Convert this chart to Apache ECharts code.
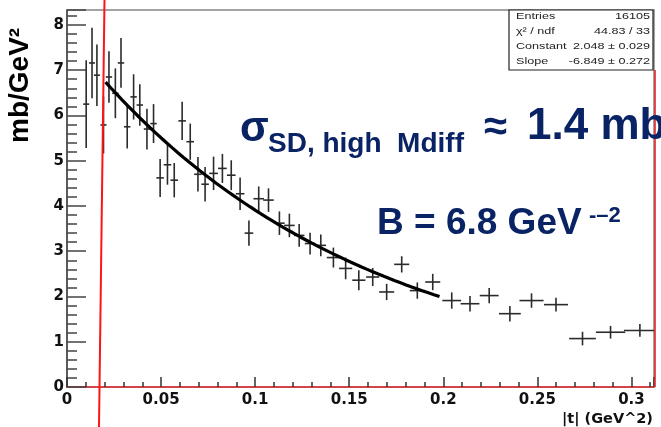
<!DOCTYPE html>
<html>
<head>
<meta charset="utf-8">
<script src="https://cdn.jsdelivr.net/npm/echarts@6/dist/echarts.min.js"></script>
<style>
  html, body { margin: 0; padding: 0; background: #fff; }
  #chart { width: 661px; height: 427px; }
</style>
</head>
<body>
<div id="chart"></div>
<script>
// |t| bin centres (GeV^2)
const tValues = [
  0.0102, 0.0133, 0.0159, 0.0194, 0.0223, 0.0257, 0.0287, 0.0320, 0.0354, 0.0387,
  0.0425, 0.0460, 0.0495, 0.0534, 0.0570, 0.0612, 0.0655, 0.0696, 0.0734, 0.0779,
  0.0826, 0.0873, 0.0920, 0.0967, 0.1019, 0.1071, 0.1129, 0.1182, 0.1234, 0.1292,
  0.1349, 0.1416, 0.1481, 0.1551, 0.1625, 0.1699, 0.1779, 0.1862, 0.1944, 0.2045,
  0.2142, 0.2244, 0.2354, 0.2469, 0.2599, 0.2740, 0.2889, 0.3045
];
// half bin widths (GeV^2)
const tHalfWidth = [
  0.0016, 0.0016, 0.0016, 0.0016, 0.0017, 0.0017, 0.0017, 0.0017, 0.0017, 0.0017,
  0.0017, 0.0017, 0.0020, 0.0020, 0.0020, 0.0020, 0.0020, 0.0020, 0.0020, 0.0023,
  0.0023, 0.0023, 0.0023, 0.0023, 0.0028, 0.0028, 0.0028, 0.0028, 0.0028, 0.0028,
  0.0028, 0.0035, 0.0035, 0.0035, 0.0035, 0.0040, 0.0040, 0.0040, 0.0040, 0.0050,
  0.0050, 0.0050, 0.0058, 0.0064, 0.0064, 0.0071, 0.0078, 0.0085
];
// dσ/d|t| (mb/GeV^2)
const dsdt = [
  6.25, 7.16, 6.89, 5.79, 6.85, 6.49, 7.16, 5.75, 6.41, 6.23,
  5.70, 5.82, 4.62, 4.91, 4.57, 5.88, 5.42, 4.70, 4.48, 4.72,
  4.83, 4.68, 4.27, 3.40, 4.16, 4.13, 3.62, 3.57, 3.35, 3.17,
  3.13, 2.86, 2.62, 2.36, 2.43, 2.10, 2.71, 2.13, 2.32, 1.91,
  1.84, 2.02, 1.62, 1.91, 1.82, 1.07, 1.21, 1.25
];
// statistical errors (mb/GeV^2)
const dsdtErr = [
  0.97, 0.78, 0.68, 0.63, 0.57, 0.55, 0.55, 0.48, 0.50, 0.46,
  0.45, 0.43, 0.42, 0.44, 0.38, 0.42, 0.40, 0.38, 0.38, 0.37,
  0.32, 0.33, 0.36, 0.28, 0.27, 0.26, 0.26, 0.26, 0.25, 0.24,
  0.24, 0.22, 0.24, 0.22, 0.20, 0.18, 0.18, 0.18, 0.18, 0.18,
  0.17, 0.17, 0.17, 0.16, 0.15, 0.15, 0.14, 0.14
];
// exponential fit exp(Constant + Slope*|t|) over the fit range
const fitConstant = 2.048;
const fitSlope = -6.849;
const fitRange = [0.0205, 0.198];

// statistics box rows
const statLabels = ['Entries', 'χ² / ndf', 'Constant', 'Slope'];
const statValues = ['16105', '44.83 / 33', '2.048 ± 0.029', '-6.849 ± 0.272'];

const fitCurve = [];
for (let i = 0; i <= 60; i++) {
  const t = fitRange[0] + (fitRange[1] - fitRange[0]) * i / 60;
  fitCurve.push([t, Math.exp(fitConstant + fitSlope * t)]);
}

const points = tValues.map((t, i) => [t, dsdt[i], tHalfWidth[i], dsdtErr[i]]);

const NAVY = '#0a2364';
const AXIS_FONT = 'DejaVu Sans';
const SLIDE_FONT = 'Liberation Sans, Arial, sans-serif';

function renderCross(params, api) {
  const x = api.value(0), y = api.value(1), ex = api.value(2), ey = api.value(3);
  const l = api.coord([x - ex, y]), r = api.coord([x + ex, y]);
  const t = api.coord([x, y + ey]), b = api.coord([x, y - ey]);
  const st = { stroke: '#2b2b2b', lineWidth: 1.6 };
  return {
    type: 'group',
    children: [
      { type: 'line', shape: { x1: l[0], y1: l[1], x2: r[0], y2: r[1] }, style: st },
      { type: 'line', shape: { x1: t[0], y1: t[1], x2: b[0], y2: b[1] }, style: st }
    ]
  };
}

const statGraphics = [{
  type: 'rect', z: 50,
  shape: { x: 509, y: 10, width: 144, height: 60 },
  style: { fill: '#fff', stroke: '#222', lineWidth: 1.2 }
}];
statLabels.forEach((s, i) => {
  statGraphics.push({
    type: 'text', z: 51, x: 516, y: 17 + i * 15, scaleX: 1.4,
    style: { text: s, fill: '#222', font: '9px ' + SLIDE_FONT, align: 'left', verticalAlign: 'middle' }
  });
  statGraphics.push({
    type: 'text', z: 51, x: 650, y: 17 + i * 15, scaleX: 1.4,
    style: { text: statValues[i], fill: '#222', font: '9px ' + SLIDE_FONT, align: 'right', verticalAlign: 'middle' }
  });
});

const chart = echarts.init(document.getElementById('chart'), null, { renderer: 'canvas' });
chart.setOption({
  animation: false,
  backgroundColor: '#fff',
  grid: {
    left: 67, right: 7, top: 10, bottom: 40,
    show: true, borderColor: '#858585', borderWidth: 1.5, backgroundColor: 'transparent'
  },
  xAxis: {
    type: 'value', min: 0, max: 0.312, interval: 0.05,
    axisLine: { lineStyle: { color: '#e3262b', width: 1.6 } },
    axisTick: { inside: true, length: 10, lineStyle: { color: '#333', width: 1.5 } },
    minorTick: { show: true, splitNumber: 5, length: 5, lineStyle: { color: '#333', width: 1.5 } },
    splitLine: { show: false },
    axisLabel: {
      margin: 6, color: '#111', fontFamily: AXIS_FONT, fontWeight: 'bold', fontSize: 15,
      showMaxLabel: false
    },
    name: '|t| (GeV^2)', nameLocation: 'end', nameGap: -1,
    nameTextStyle: {
      color: '#111', fontFamily: AXIS_FONT, fontWeight: 'bold', fontSize: 14.5,
      align: 'right', verticalAlign: 'top', padding: [25, 0, 0, 0]
    }
  },
  yAxis: {
    type: 'value', min: 0, max: 8.33, interval: 1,
    axisLine: { show: true, lineStyle: { color: '#444', width: 1.5 } },
    axisTick: { inside: true, length: 19, lineStyle: { color: '#444', width: 1.5 } },
    minorTick: { show: true, splitNumber: 5, length: 10, lineStyle: { color: '#444', width: 1.5 } },
    splitLine: { show: false },
    axisLabel: {
      margin: 3, color: '#111', fontFamily: AXIS_FONT, fontWeight: 'bold', fontSize: 15,
      showMaxLabel: false
    }
  },
  series: [
    {
      type: 'custom', name: 'data', renderItem: renderCross, clip: true,
      encode: { x: 0, y: 1 }, data: points, z: 3
    },
    {
      type: 'line', name: 'fit', data: fitCurve, showSymbol: false, smooth: false,
      lineStyle: { color: '#000', width: 3.2 }, z: 4, silent: true
    }
  ],
  graphic: statGraphics.concat([
    // red frame lines and cut line drawn over the plot
    { type: 'line', z: 60, shape: { x1: 655, y1: 70, x2: 655, y2: 387 },
      style: { stroke: '#e3262b', lineWidth: 1.6 } },
    { type: 'line', z: 60, shape: { x1: 104.5, y1: 0, x2: 99, y2: 427 },
      style: { stroke: '#ff1414', lineWidth: 2 } },
    // y axis title
    { type: 'text', z: 60, x: 34, y: 143, rotation: Math.PI / 2,
      style: { text: 'mb/GeV²', fill: '#000', font: 'bold 28px ' + SLIDE_FONT,
               align: 'left', verticalAlign: 'bottom' } },
    // cross-section annotation
    { type: 'text', z: 60, x: 240, y: 129,
      style: { text: 'σ', fill: NAVY, font: 'bold 42px ' + SLIDE_FONT, align: 'left', verticalAlign: 'middle' } },
    { type: 'text', z: 60, x: 268, y: 144,
      style: { text: 'SD, high  Mdiff', fill: NAVY, font: 'bold 28px ' + SLIDE_FONT, align: 'left', verticalAlign: 'middle' } },
    { type: 'text', z: 60, x: 484, y: 128,
      style: { text: '≈', fill: NAVY, font: 'bold 42px ' + SLIDE_FONT, align: 'left', verticalAlign: 'middle' } },
    { type: 'text', z: 60, x: 527, y: 127,
      style: { text: '1.4 mb', fill: NAVY, font: 'bold 44px ' + SLIDE_FONT, align: 'left', verticalAlign: 'middle' } },
    // slope annotation
    { type: 'text', z: 60, x: 377, y: 224,
      style: { text: 'B = 6.8 GeV', fill: NAVY, font: 'bold 37px ' + SLIDE_FONT, align: 'left', verticalAlign: 'middle' } },
    { type: 'text', z: 60, x: 589, y: 216,
      style: { text: '-–2', fill: NAVY, font: 'bold 22px ' + SLIDE_FONT, align: 'left', verticalAlign: 'middle' } }
  ])
});
</script>
</body>
</html>
